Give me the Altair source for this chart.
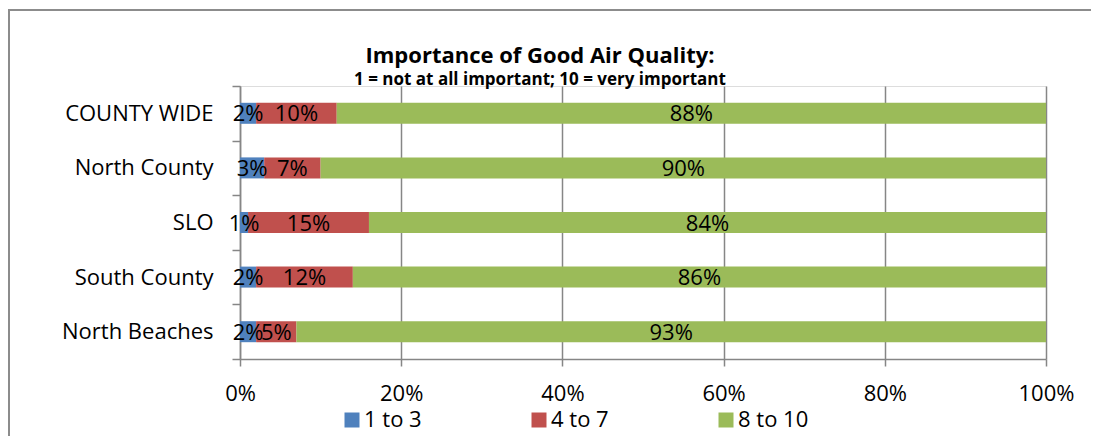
import altair as alt
import pandas as pd

regions = ["COUNTY WIDE", "North County", "SLO", "South County", "North Beaches"]
groups = ["1 to 3", "4 to 7", "8 to 10"]
low = [2, 3, 1, 2, 2]
mid = [10, 7, 15, 12, 5]
high = [88, 90, 84, 86, 93]
colors = ["#4F81BD", "#C0504D", "#9BBB59"]
x_ticks = [0, 0.2, 0.4, 0.6, 0.8, 1.0]
title_text = "Importance of Good Air Quality:"
subtitle_text = "1 = not at all important; 10 = very important"

rows = []
for i, r in enumerate(regions):
    for j, (g, vals) in enumerate(zip(groups, [low, mid, high])):
        rows.append({"region": r, "group": g, "order": j, "pct": vals[i] / 100})
df = pd.DataFrame(rows)

GRAY = "#868686"
FONT = "Open Sans"

base = alt.Chart(df).transform_stack(
    stack="pct", groupby=["region"], sort=[alt.SortField("order")], as_=["x0", "x1"]
).transform_calculate(xm="(datum.x0 + datum.x1) / 2")

y_enc = alt.Y(
    "region:N",
    sort=regions,
    scale=alt.Scale(paddingInner=0, paddingOuter=0),
    axis=alt.Axis(
        title=None, tickBand="extent", tickSize=8, labelPadding=19,
        labelFontSize=22, labelColor="black", labelFont=FONT,
        domainColor=GRAY, domainWidth=1.5, tickColor=GRAY, tickWidth=1.5, grid=False,
    ),
)

bars = base.mark_bar(size=21).encode(
    x=alt.X(
        "x0:Q",
        scale=alt.Scale(domain=[0, 1], nice=False),
        axis=alt.Axis(
            values=x_ticks, format=".0%", grid=True, gridColor=GRAY, gridWidth=1.5,
            domainColor=GRAY, domainWidth=1.5, tickColor=GRAY, tickWidth=1.5, tickSize=7,
            labelFontSize=22, labelColor="black", labelFont=FONT, labelPadding=17,
            labelFlush=False, labelOverlap=False, title=None,
        ),
    ),
    x2="x1:Q",
    y=y_enc,
    color=alt.Color(
        "group:N",
        sort=groups,
        scale=alt.Scale(domain=groups, range=colors),
        legend=alt.Legend(
            orient="none", legendX=101, legendY=323, direction="horizontal", title=None,
            symbolType="square", symbolSize=225, symbolStrokeWidth=0,
            labelFontSize=22, labelFont=FONT, labelColor="black", labelOffset=1,
            columnPadding=106,
        ),
    ),
    order=alt.Order("order:Q"),
)

labels = base.mark_text(fontSize=22, font=FONT, color="black", baseline="middle", dy=1).encode(
    x=alt.X("xm:Q"),
    y=alt.Y("region:N", sort=regions),
    text=alt.Text("pct:Q", format=".0%"),
)

one = alt.Data(values=[{"a": 1}])

border_top = alt.Chart(one).mark_rule(color="#8c8c8c", strokeWidth=2).encode(
    x=alt.value(-231), x2=alt.value(851), y=alt.value(-76)
)
border_left = alt.Chart(one).mark_rule(color="#8c8c8c", strokeWidth=2).encode(
    x=alt.value(-231), y=alt.value(-77), y2=alt.value(350)
)

title = alt.Chart(one).mark_text(
    text=title_text, fontSize=22, fontWeight="bold", font=FONT, color="black",
    align="center", baseline="alphabetic",
).encode(x=alt.value(300), y=alt.value(-23))

subtitle = alt.Chart(one).mark_text(
    text=subtitle_text, fontSize=17, fontWeight="bold", font=FONT, color="black",
    align="center", baseline="alphabetic",
).encode(x=alt.value(300), y=alt.value(-1))

chart = alt.layer(border_top, border_left, bars, labels, title, subtitle).properties(
    width=806,
    height=273,
    autosize=alt.AutoSizeParams(type="none"),
    padding={"left": 232, "top": 78, "right": 45, "bottom": 77},
).configure_view(strokeWidth=0).configure(font=FONT)

chart.save("out.html", embed_options={"renderer": "svg", "actions": False})
